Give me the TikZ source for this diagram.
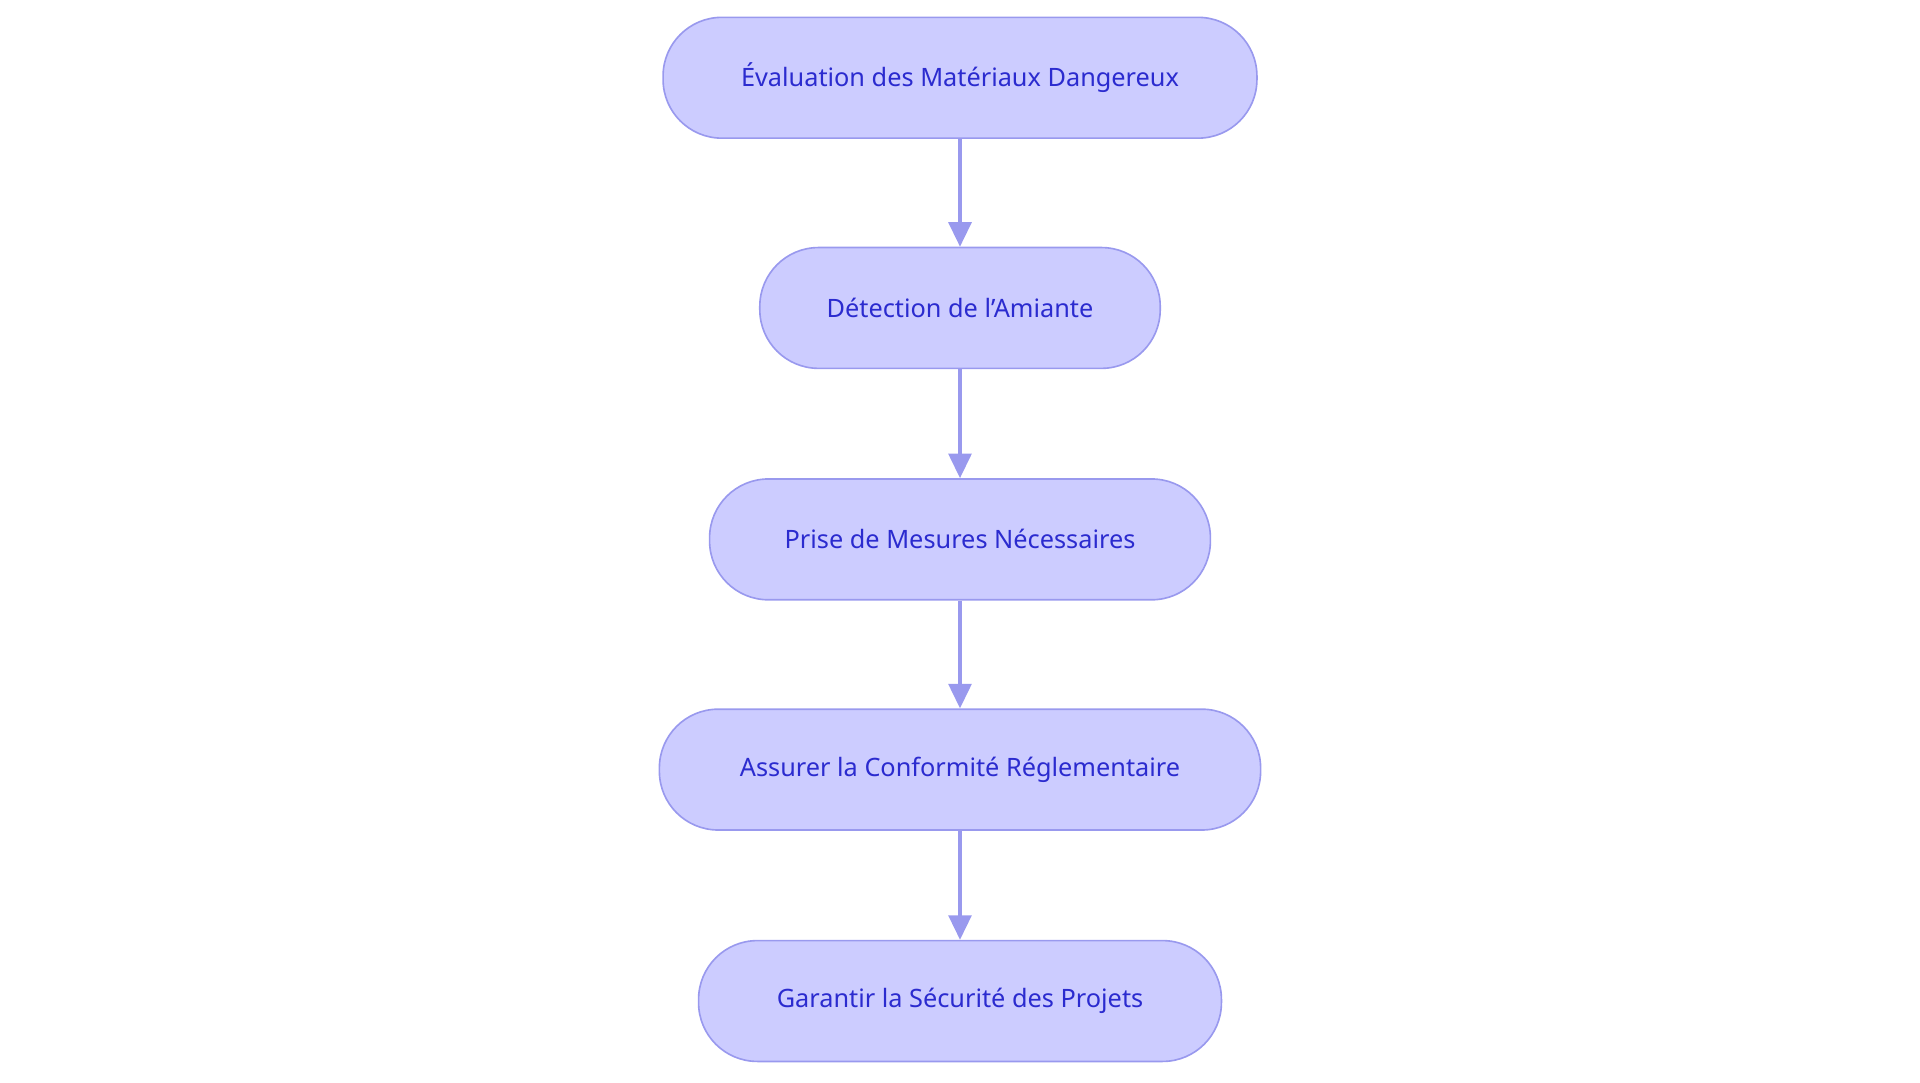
\documentclass[tikz,border=0pt]{standalone}
\usepackage{fontspec}
\setmainfont{Noto Sans}
\usetikzlibrary{arrows.meta}
\definecolor{bfill}{HTML}{CCCCFF}
\definecolor{bdraw}{HTML}{9999EE}
\definecolor{btext}{HTML}{2B2BCF}
\begin{document}
\begin{tikzpicture}[x=0.75pt,y=-0.75pt,
  box/.style={draw=bdraw,fill=bfill,text=btext,line width=1pt,rounded corners=36pt,minimum height=74pt,inner sep=0pt,font=\fontsize{15.5}{18}\selectfont},
  arr/.style={draw=bdraw,line width=2pt,-{Triangle[length=15pt,width=14pt]}}]
\useasboundingbox (0,0) rectangle (1568,884);
\node[box,minimum width=363.75pt] (a) at (784,63.5) {Évaluation des Matériaux Dangereux};
\node[box,minimum width=245.25pt] (b) at (784,251.5) {Détection de l'Amiante};
\node[box,minimum width=306.75pt] (c) at (784,440.5) {Prise de Mesures Nécessaires};
\node[box,minimum width=368.25pt] (d) at (784,628.5) {Assurer la Conformité Réglementaire};
\node[box,minimum width=320.25pt] (e) at (784,817.5) {Garantir la Sécurité des Projets};
\draw[arr] (a) -- (b);
\draw[arr] (b) -- (c);
\draw[arr] (c) -- (d);
\draw[arr] (d) -- (e);
\end{tikzpicture}
\end{document}
